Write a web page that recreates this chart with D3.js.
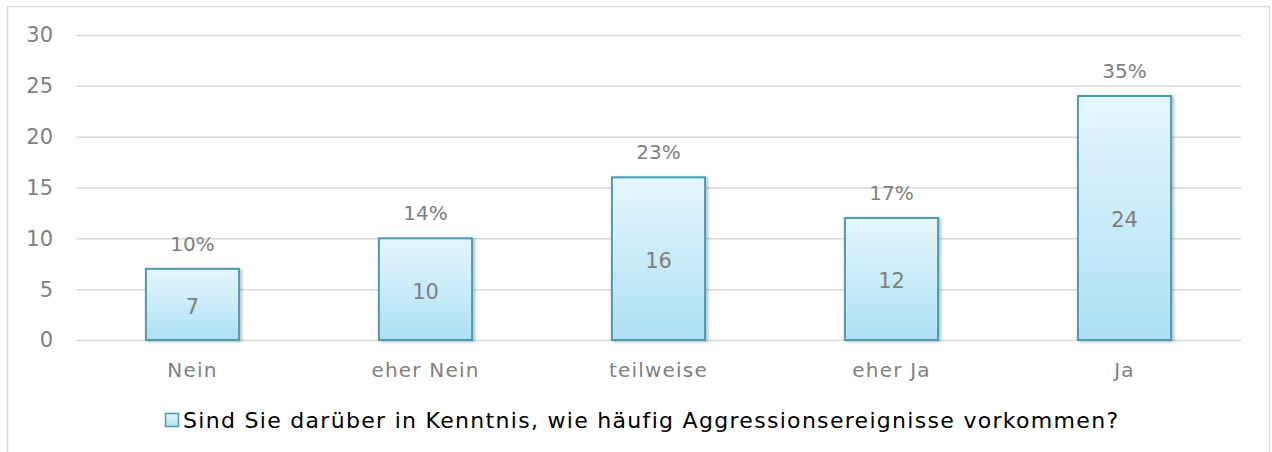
<!DOCTYPE html>
<html lang="de">
<head>
<meta charset="UTF-8"/>
<title>Aggressionsereignisse</title>
<script src="https://d3js.org/d3.v7.min.js"></script>
<style>
    body { margin: 0; background: #fff; }
    svg { display: block; font-family: "DejaVu Sans", sans-serif; }
</style>
</head>
<body>
<script>
var categories = ["Nein", "eher Nein", "teilweise", "eher Ja", "Ja"];
var counts = [7, 10, 16, 12, 24];
var percents = ["10%", "14%", "23%", "17%", "35%"];
var yTicks = [0, 5, 10, 15, 20, 25, 30];
var legendLabel = "Sind Sie darüber in Kenntnis, wie häufig Aggressionsereignisse vorkommen?";

var w = 1272, h = 452;
var plotLeft = 76, plotRight = 1241, plotTop = 35, plotBottom = 340;

var svg = d3.select("body").append("svg")
    .attr("width", w)
    .attr("height", h);

var defs = svg.append("defs");
var grad = defs.append("linearGradient")
    .attr("id", "barGrad")
    .attr("x1", 0).attr("y1", 0).attr("x2", 0).attr("y2", 1);
grad.append("stop").attr("offset", "0%").attr("stop-color", "#e6f6fd");
grad.append("stop").attr("offset", "100%").attr("stop-color", "#ade0f4");

var shadow = defs.append("filter").attr("id", "shadow")
    .attr("x", "-10%").attr("y", "-10%").attr("width", "130%").attr("height", "130%");
shadow.append("feDropShadow")
    .attr("dx", 2).attr("dy", 1).attr("stdDeviation", 1.5)
    .attr("flood-color", "#000").attr("flood-opacity", 0.25);

// outer frame
svg.append("rect")
    .attr("x", 7.5).attr("y", 6.5)
    .attr("width", 1262).attr("height", 460)
    .attr("fill", "none")
    .attr("stroke", "#d9d9d9")
    .attr("stroke-width", 1.5);

var x = d3.scaleBand()
    .domain(categories)
    .range([plotLeft, plotRight])
    .paddingInner(0.6)
    .paddingOuter(0.3);

var y = d3.scaleLinear()
    .domain([0, 30])
    .range([plotBottom, plotTop]);

// gridlines
svg.append("g")
    .selectAll("line")
    .data(yTicks)
    .enter()
    .append("line")
    .attr("x1", plotLeft)
    .attr("x2", plotRight)
    .attr("y1", function(d){ return y(d) + 0.5; })
    .attr("y2", function(d){ return y(d) + 0.5; })
    .attr("stroke", "#d9d9d9")
    .attr("stroke-width", 1.5);

// y axis labels
svg.append("g")
    .selectAll("text")
    .data(yTicks)
    .enter()
    .append("text")
    .attr("x", 53)
    .attr("y", function(d){ return y(d); })
    .attr("dy", "0.35em")
    .attr("text-anchor", "end")
    .attr("fill", "#7f7f7f")
    .attr("font-size", 21)
    .text(function(d){ return d; });

// bars
svg.append("g")
    .selectAll("rect")
    .data(counts)
    .enter()
    .append("rect")
    .attr("x", function(d, i){ return x(categories[i]); })
    .attr("y", function(d){ return y(d); })
    .attr("width", x.bandwidth())
    .attr("height", function(d){ return plotBottom - y(d); })
    .attr("fill", "url(#barGrad)")
    .attr("stroke", "#4a9bb1")
    .attr("stroke-width", 2)
    .attr("filter", "url(#shadow)");

// value labels inside bars
svg.append("g")
    .selectAll("text")
    .data(counts)
    .enter()
    .append("text")
    .attr("x", function(d, i){ return x(categories[i]) + x.bandwidth() / 2; })
    .attr("y", function(d){ return (y(d) + plotBottom) / 2 + 2; })
    .attr("dy", "0.35em")
    .attr("text-anchor", "middle")
    .attr("fill", "#7f7f7f")
    .attr("font-size", 21)
    .text(function(d){ return d; });

// percentage labels above bars
svg.append("g")
    .selectAll("text")
    .data(percents)
    .enter()
    .append("text")
    .attr("x", function(d, i){ return x(categories[i]) + x.bandwidth() / 2; })
    .attr("y", function(d, i){ return y(counts[i]) - 25; })
    .attr("dy", "0.35em")
    .attr("text-anchor", "middle")
    .attr("fill", "#7f7f7f")
    .attr("font-size", 20)
    .text(function(d){ return d; });

// category labels
svg.append("g")
    .selectAll("text")
    .data(categories)
    .enter()
    .append("text")
    .attr("x", function(d){ return x(d) + x.bandwidth() / 2; })
    .attr("y", 370)
    .attr("dy", "0.35em")
    .attr("text-anchor", "middle")
    .attr("fill", "#7f7f7f")
    .attr("font-size", 20)
    .attr("letter-spacing", 1.2)
    .text(function(d){ return d; });

// legend
var legend = svg.append("g");
legend.append("rect")
    .attr("x", 165.5).attr("y", 413.5)
    .attr("width", 13).attr("height", 13)
    .attr("fill", "url(#barGrad)")
    .attr("stroke", "#4a9bb1")
    .attr("stroke-width", 1.5);
legend.append("text")
    .attr("x", 183)
    .attr("y", 420)
    .attr("dy", "0.35em")
    .attr("fill", "#000")
    .attr("font-size", 22)
    .attr("letter-spacing", 1.3)
    .text(legendLabel);
</script>
</body>
</html>
